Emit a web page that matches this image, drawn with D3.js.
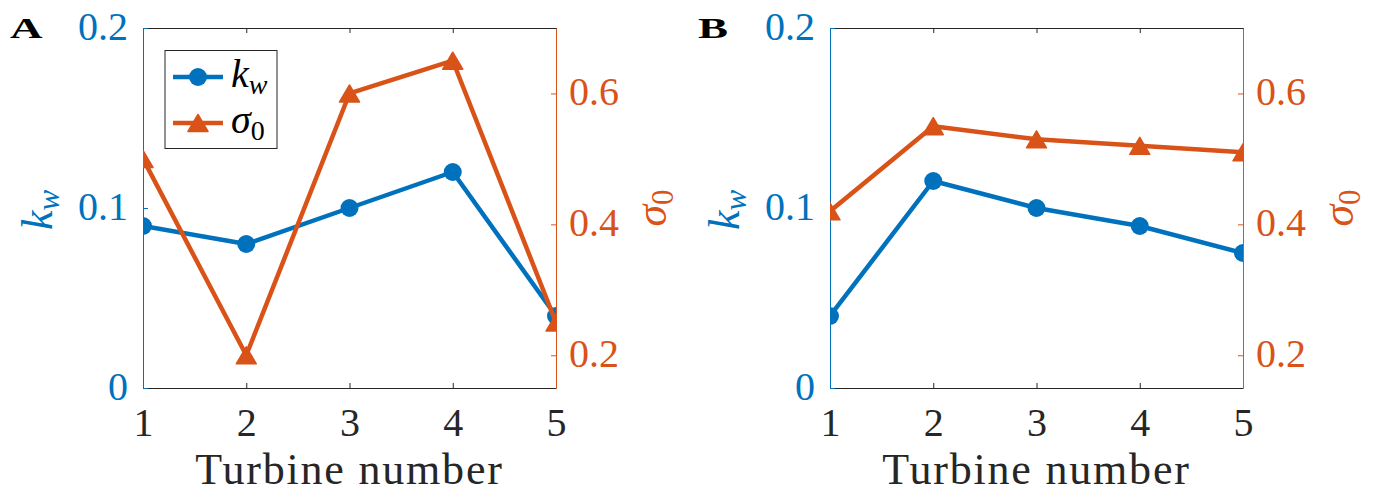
<!DOCTYPE html>
<html>
<head>
<meta charset="utf-8">
<script src="https://cdn.jsdelivr.net/npm/d3@7"></script>
<style>
  html, body { margin: 0; padding: 0; background: #fff; }
  svg { display: block; }
  text { font-family: "Liberation Serif", "Times New Roman", serif; }
</style>
</head>
<body>
<svg id="chart" width="1377" height="501"></svg>
<script>
// ---- data ----
const turbines = [1, 2, 3, 4, 5];
const kwA = [0.09, 0.08, 0.10, 0.12, 0.04];
const sigmaA = [0.50, 0.20, 0.60, 0.65, 0.25];
const kwB = [0.04, 0.115, 0.10, 0.09, 0.075];
const sigmaB = [0.42, 0.55, 0.53, 0.52, 0.51];
const panelLetters = ["A", "B"];
const kwTicks = [0, 0.1, 0.2];
const sigmaTicks = [0.2, 0.4, 0.6];
const kwDomain = [0, 0.2];
const sigmaDomain = [0.15, 0.7];
const xLabel = "Turbine number";

// ---- style ----
const BLUE = "#0072BD", ORANGE = "#D95319", DARK = "#262626";
const svg = d3.select("#chart");
const plotTop = 28, plotBottom = 388;
const panels = [
  { left: 143, right: 556, kw: kwA, sigma: sigmaA, letter: panelLetters[0], letterX: 10, legend: true },
  { left: 830, right: 1243, kw: kwB, sigma: sigmaB, letter: panelLetters[1], letterX: 698, legend: false }
];

function trianglePath(w, h) {
  return `M0,${-h/2}L${w/2},${h/2}L${-w/2},${h/2}Z`;
}
const TRI = trianglePath(20, 17);
const R = 9;
const LW = 4.5;

panels.forEach((p, i) => {
  const x = d3.scaleLinear().domain([1, 5]).range([p.left, p.right]);
  const yL = d3.scaleLinear().domain(kwDomain).range([plotBottom, plotTop]);
  const yR = d3.scaleLinear().domain(sigmaDomain).range([plotBottom, plotTop]);
  const g = svg.append("g");

  const clipId = "clip" + i;
  svg.append("clipPath").attr("id", clipId).append("rect")
    .attr("x", p.left).attr("y", plotTop).attr("width", p.right - p.left).attr("height", plotBottom - plotTop);

  // axes
  const xb = g.append("g").attr("transform", `translate(0,${plotBottom})`)
    .call(d3.axisBottom(x).tickValues(turbines).tickFormat(d3.format("d")).tickSizeInner(-5).tickSizeOuter(0));
  xb.select(".domain").attr("stroke", DARK);
  xb.selectAll(".tick line").attr("stroke", DARK);
  xb.selectAll(".tick text").attr("y", 48).attr("dy", 0).attr("fill", DARK)
    .style("font-size", "40px").style("font-family", "Liberation Serif");

  const xt = g.append("g").attr("transform", `translate(0,${plotTop})`)
    .call(d3.axisTop(x).tickValues(turbines).tickFormat("").tickSizeInner(-5).tickSizeOuter(0));
  xt.select(".domain").attr("stroke", DARK);
  xt.selectAll(".tick line").attr("stroke", DARK);

  const yl = g.append("g").attr("transform", `translate(${p.left},0)`)
    .call(d3.axisLeft(yL).tickValues(kwTicks).tickFormat(d => d === 0 ? "0" : d3.format(".1f")(d)).tickSizeInner(-5).tickSizeOuter(0));
  yl.select(".domain").attr("stroke", BLUE);
  yl.selectAll(".tick line").attr("stroke", BLUE);
  yl.selectAll(".tick text").attr("x", -15).attr("dy", 11).attr("fill", BLUE)
    .style("font-size", "40px").style("font-family", "Liberation Serif");

  const yr = g.append("g").attr("transform", `translate(${p.right},0)`)
    .call(d3.axisRight(yR).tickValues(sigmaTicks).tickFormat(d3.format(".1f")).tickSizeInner(-5).tickSizeOuter(0));
  yr.select(".domain").attr("stroke", ORANGE);
  yr.selectAll(".tick line").attr("stroke", ORANGE);
  yr.selectAll(".tick text").attr("x", 13).attr("dy", 11).attr("fill", ORANGE)
    .style("font-size", "40px").style("font-family", "Liberation Serif");

  // data
  const plot = g.append("g").attr("clip-path", `url(#${clipId})`);
  const lineL = d3.line().x((d, j) => x(turbines[j])).y(d => yL(d));
  const lineR = d3.line().x((d, j) => x(turbines[j])).y(d => yR(d));
  plot.append("path").datum(p.kw).attr("d", lineL).attr("fill", "none")
    .attr("stroke", BLUE).attr("stroke-width", LW).attr("stroke-linejoin", "round");
  plot.selectAll("circle.kw").data(p.kw).join("circle").attr("class", "kw")
    .attr("cx", (d, j) => x(turbines[j])).attr("cy", d => yL(d)).attr("r", R).attr("fill", BLUE);
  plot.append("path").datum(p.sigma).attr("d", lineR).attr("fill", "none")
    .attr("stroke", ORANGE).attr("stroke-width", LW).attr("stroke-linejoin", "round");
  plot.selectAll("path.sig").data(p.sigma).join("path").attr("class", "sig")
    .attr("d", TRI).attr("transform", (d, j) => `translate(${x(turbines[j])},${yR(d)})`)
    .attr("fill", ORANGE).attr("stroke", ORANGE).attr("stroke-width", 1.5).attr("stroke-linejoin", "round");

  // axis labels
  g.append("text").attr("x", (p.left + p.right) / 2).attr("y", 484)
    .attr("text-anchor", "middle").attr("fill", DARK)
    .style("font-size", "44px").style("letter-spacing", "1.8px").text(xLabel);

  const kl = g.append("text").attr("transform", `translate(${p.left - 91},210) rotate(-90)`)
    .attr("text-anchor", "middle").attr("fill", BLUE).style("font-size", "44px");
  kl.append("tspan").style("font-style", "italic").text("k");
  kl.append("tspan").style("font-style", "italic").style("font-size", "31px").attr("dy", 7).text("w");

  const sl = g.append("text").attr("transform", `translate(${p.right + 110},208) rotate(-90)`)
    .attr("text-anchor", "middle").attr("fill", ORANGE).style("font-size", "44px");
  sl.append("tspan").style("font-style", "italic").text("σ");
  sl.append("tspan").style("font-size", "31px").attr("dy", 7).text("0");

  // panel letter
  g.append("text").attr("transform", `translate(${p.letterX},38) scale(1.5,1)`)
    .attr("fill", "#000").style("font-size", "30px").style("font-weight", "bold").text(p.letter);

  // legend
  if (p.legend) {
    const lg = g.append("g");
    lg.append("rect").attr("x", 165).attr("y", 50.5).attr("width", 112).attr("height", 98)
      .attr("fill", "#fff").attr("stroke", DARK).attr("stroke-width", 1);
    const rows = [
      { y: 77, color: BLUE, main: "k", sub: "w", subItalic: true, marker: "circle" },
      { y: 123, color: ORANGE, main: "σ", sub: "0", subItalic: false, marker: "tri" }
    ];
    rows.forEach(r => {
      lg.append("line").attr("x1", 173).attr("x2", 223).attr("y1", r.y).attr("y2", r.y)
        .attr("stroke", r.color).attr("stroke-width", LW);
      if (r.marker === "circle") {
        lg.append("circle").attr("cx", 198).attr("cy", r.y).attr("r", R).attr("fill", r.color);
      } else {
        lg.append("path").attr("d", TRI).attr("transform", `translate(198,${r.y})`)
          .attr("fill", r.color).attr("stroke", r.color).attr("stroke-width", 1.5).attr("stroke-linejoin", "round");
      }
      const t = lg.append("text").attr("x", 231).attr("y", r.y + 10).attr("fill", "#000").style("font-size", "40px");
      t.append("tspan").style("font-style", "italic").text(r.main);
      t.append("tspan").style("font-style", r.subItalic ? "italic" : "normal").style("font-size", "28px").attr("dy", 7).text(r.sub);
    });
  }
});
</script>
</body>
</html>
